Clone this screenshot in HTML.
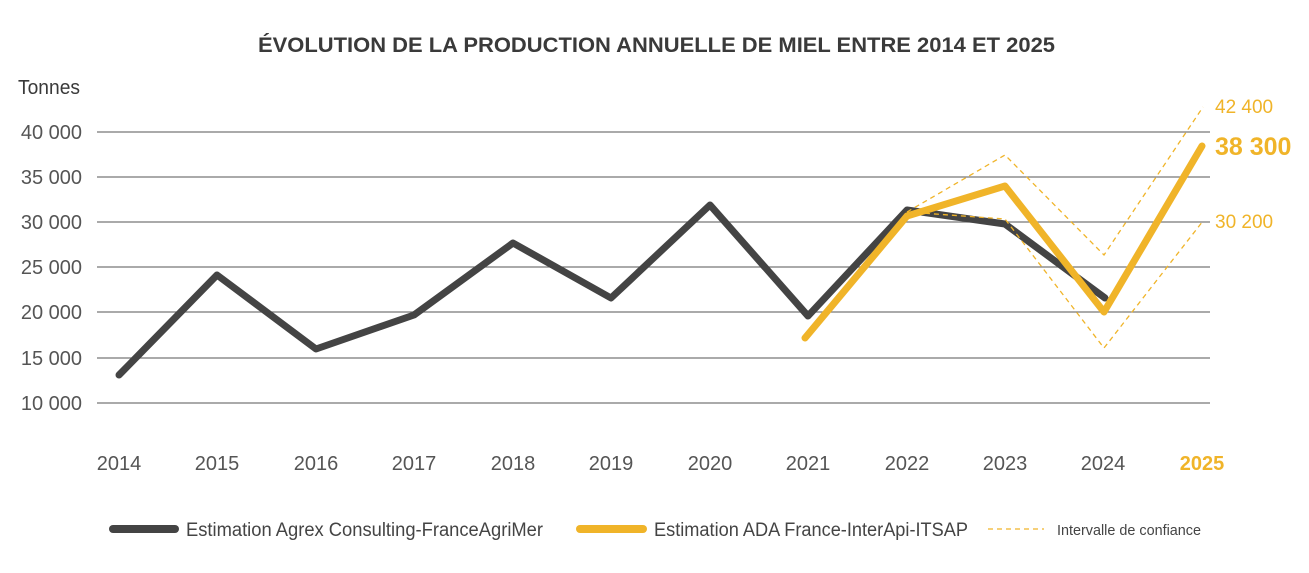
<!DOCTYPE html>
<html><head><meta charset="utf-8"><style>
body{margin:0;background:#fff;}
svg text{font-family:"Liberation Sans Narrow","Liberation Sans",sans-serif;}
</style></head><body>
<svg width="1309" height="568" viewBox="0 0 1309 568" xmlns="http://www.w3.org/2000/svg">
<rect width="1309" height="568" fill="#fff"/>
<text x="258" y="52" font-size="21" font-weight="bold" fill="#3a3a3a" textLength="797" lengthAdjust="spacingAndGlyphs">ÉVOLUTION DE LA PRODUCTION ANNUELLE DE MIEL ENTRE 2014 ET 2025</text>
<text x="18" y="94" font-size="20" fill="#3a3a3a" textLength="62" lengthAdjust="spacingAndGlyphs">Tonnes</text>
<g stroke="#777" stroke-width="1.2">
<line x1="97" y1="132" x2="1210" y2="132"/><line x1="97" y1="177" x2="1210" y2="177"/>
<line x1="97" y1="222" x2="1210" y2="222"/><line x1="97" y1="267" x2="1210" y2="267"/>
<line x1="97" y1="312" x2="1210" y2="312"/><line x1="97" y1="358" x2="1210" y2="358"/>
<line x1="97" y1="403" x2="1210" y2="403"/>
</g>
<g font-size="20" fill="#555" text-anchor="end">
<text x="82" y="139">40 000</text><text x="82" y="184">35 000</text><text x="82" y="229">30 000</text>
<text x="82" y="274">25 000</text><text x="82" y="319">20 000</text><text x="82" y="365">15 000</text>
<text x="82" y="410">10 000</text>
</g>
<g font-size="20" fill="#555" text-anchor="middle">
<text x="119" y="470">2014</text><text x="217" y="470">2015</text><text x="316" y="470">2016</text>
<text x="414" y="470">2017</text><text x="513" y="470">2018</text><text x="611" y="470">2019</text>
<text x="710" y="470">2020</text><text x="808" y="470">2021</text><text x="907" y="470">2022</text>
<text x="1005" y="470">2023</text><text x="1103" y="470">2024</text>
<text x="1202" y="470" fill="#f0b429" font-weight="bold">2025</text>
</g>
<polyline fill="none" stroke="#444" stroke-width="7" stroke-linejoin="round" stroke-linecap="round"
 points="119,375 217,275 316,349 414,315 513,243 611,298 710,205 808,316 907,210 1005,224 1105,298"/>
<g fill="none" stroke="#f0b429" stroke-width="1.3" stroke-dasharray="5,4">
<polyline points="907,212 1005,155 1104,255 1203,107"/>
<polyline points="907,212 1005,219 1104,348 1203,221"/>
</g>
<polyline fill="none" stroke="#f0b429" stroke-width="7" stroke-linejoin="round" stroke-linecap="round"
 points="805,338 907,216 1005,186 1104,312 1202,146"/>
<text x="1215" y="113" font-size="19" fill="#f0b429">42 400</text>
<text x="1215" y="155" font-size="25" font-weight="bold" fill="#f0b429">38 300</text>
<text x="1215" y="228" font-size="19" fill="#f0b429">30 200</text>
<line x1="113" y1="529" x2="175" y2="529" stroke="#444" stroke-width="8" stroke-linecap="round"/>
<text x="186" y="536" font-size="19" fill="#444" textLength="357" lengthAdjust="spacingAndGlyphs">Estimation Agrex Consulting-FranceAgriMer</text>
<line x1="580" y1="529" x2="643" y2="529" stroke="#f0b429" stroke-width="8" stroke-linecap="round"/>
<text x="654" y="536" font-size="19" fill="#444" textLength="314" lengthAdjust="spacingAndGlyphs">Estimation ADA France-InterApi-ITSAP</text>
<line x1="988" y1="529" x2="1044" y2="529" stroke="#f0b429" stroke-width="1.3" stroke-dasharray="5,4"/>
<text x="1057" y="535" font-size="15" fill="#444" textLength="144" lengthAdjust="spacingAndGlyphs">Intervalle de confiance</text>
</svg>
</body></html>
